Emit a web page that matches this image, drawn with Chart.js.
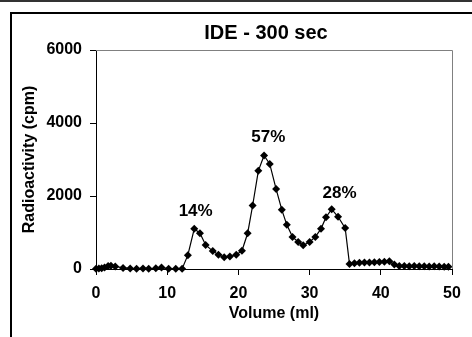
<!DOCTYPE html>
<html>
<head>
<meta charset="utf-8">
<script src="https://cdn.jsdelivr.net/npm/chart.js@4/dist/chart.umd.min.js"></script>
<style>
  html, body { margin: 0; padding: 0; background: #fff; }
  canvas { display: block; }
</style>
</head>
<body>
<canvas id="ChromChart" width="472" height="337"></canvas>
<script>
// elution profile
var volume = [0, 0.4, 0.8, 1.2, 1.7, 2.1, 2.7, 3.8, 4.8, 5.7, 6.6, 7.4, 8.4, 9.2, 10.2, 11.2,
  12.1, 12.9, 13.8, 14.6, 15.4, 16.4, 17.2, 18.0, 18.8, 19.7, 20.5, 21.3, 22.0, 22.8, 23.6,
  24.4, 25.3, 26.1, 26.8, 27.6, 28.4, 29.1, 30.0, 30.8, 31.6, 32.3, 33.1, 34.0, 35.0, 35.6,
  36.3, 37.0, 37.7, 38.4, 39.1, 39.8, 40.5, 41.2, 41.9, 42.6, 43.3, 44.0, 44.7, 45.4, 46.1,
  46.8, 47.5, 48.2, 48.9, 49.5];
var cpm = [10, 15, 20, 40, 80, 90, 70, 30, 15, 10, 15, 10, 20, 40, 10, 5,
  10, 380, 1100, 980, 660, 490, 390, 320, 340, 390, 500, 980, 1740, 2690, 3110,
  2880, 2190, 1620, 1210, 880, 740, 650, 740, 880, 1100, 1420, 1640, 1430, 1120, 140,
  160, 170, 175, 180, 185, 190, 200, 210, 120, 80, 80, 75, 80, 75, 75,
  70, 75, 70, 65, 60];

// peak percentages and where they sit (ml, cpm)
var peakText = ['14%', '57%', '28%'];
var peakVol = [14.0, 24.2, 34.2];
var peakCpm = [1570, 3620, 2070];

var xTicks = [0, 10, 20, 30, 40, 50];
var yTicks = [0, 2000, 4000, 6000];
var chartTitle = 'IDE - 300 sec';

var FONT = "'Liberation Sans', Arial, sans-serif";

var points = new Array();
for (var i = 0; i < volume.length; i++) {
    points.push({ x: volume[i], y: cpm[i] });
}

var framePlugin = {
    id: 'frame',
    afterDraw: function (chart) {
        var ctx = chart.ctx;
        var a = chart.chartArea;
        ctx.save();
        // gray top/right of plot area
        ctx.strokeStyle = '#808080';
        ctx.lineWidth = 1;
        ctx.beginPath();
        ctx.moveTo(a.left, a.top + 0.5);
        ctx.lineTo(a.right + 0.5, a.top + 0.5);
        ctx.lineTo(a.right + 0.5, a.bottom);
        ctx.stroke();

        // outer frame lines
        ctx.strokeStyle = '#333';
        ctx.lineWidth = 2;
        ctx.beginPath();
        ctx.moveTo(0, 1);
        ctx.lineTo(472, 1);
        ctx.stroke();
        ctx.strokeStyle = '#000';
        ctx.beginPath();
        ctx.moveTo(11, 337);
        ctx.lineTo(11, 13);
        ctx.lineTo(472, 13);
        ctx.stroke();

        ctx.fillStyle = '#000';
        ctx.textAlign = 'center';
        ctx.textBaseline = 'middle';
        // title
        ctx.font = 'bold 20px ' + FONT;
        ctx.fillText(chartTitle, 266, 33);

        // peak labels
        var xs = chart.scales.x, ys = chart.scales.y;
        ctx.font = 'bold 17px ' + FONT;
        for (var k = 0; k < peakText.length; k++) {
            ctx.fillText(peakText[k], xs.getPixelForValue(peakVol[k]), ys.getPixelForValue(peakCpm[k]));
        }
        ctx.restore();
    }
};

var ctx = document.getElementById('ChromChart').getContext('2d');
var myChart = new Chart(ctx, {
    type: 'scatter',
    data: {
        datasets: [{
            data: points,
            showLine: true,
            borderColor: '#000',
            borderWidth: 1.2,
            pointStyle: 'rectRot',
            pointRadius: 4,
            pointBackgroundColor: '#000',
            pointBorderColor: '#000',
            pointBorderWidth: 0,
            tension: 0,
            clip: false
        }]
    },
    options: {
        responsive: false,
        animation: false,
        devicePixelRatio: 1,
        layout: { padding: { left: 0, right: 20, top: 50, bottom: 0 } },
        plugins: {
            legend: { display: false },
            tooltip: { enabled: false },
            title: { display: false }
        },
        scales: {
            x: {
                type: 'linear',
                min: 0,
                max: 50,
                afterBuildTicks: function (s) { s.ticks = xTicks.map(function (v) { return { value: v }; }); },
                afterFit: function (s) { s.height = 337 - 269; },
                ticks: {
                    color: '#000', font: { family: FONT, size: 16, weight: 'bold' }, padding: 9, maxRotation: 0,
                    callback: function (v) { return String(v); }
                },
                grid: { drawOnChartArea: false, drawTicks: true, tickLength: 6, color: '#000' },
                border: { display: true, color: '#000', width: 1 },
                title: {
                    display: true,
                    text: 'Volume (ml)',
                    color: '#000',
                    font: { family: FONT, size: 16, weight: 'bold' },
                    padding: { top: 0, bottom: 14 }
                }
            },
            y: {
                min: 0,
                max: 6000,
                afterBuildTicks: function (s) { s.ticks = yTicks.map(function (v) { return { value: v }; }); },
                afterFit: function (s) { s.width = 96; },
                ticks: {
                    color: '#000', font: { family: FONT, size: 16, weight: 'bold' }, padding: 8,
                    callback: function (v) { return String(v); }
                },
                grid: { drawOnChartArea: false, drawTicks: true, tickLength: 6, color: '#000' },
                border: { display: true, color: '#000', width: 1 },
                title: {
                    display: true,
                    text: 'Radioactivity (cpm)',
                    color: '#000',
                    font: { family: FONT, size: 16, weight: 'bold' },
                    padding: { top: 20, bottom: 0 }
                }
            }
        }
    },
    plugins: [framePlugin]
});
</script>
</body>
</html>
